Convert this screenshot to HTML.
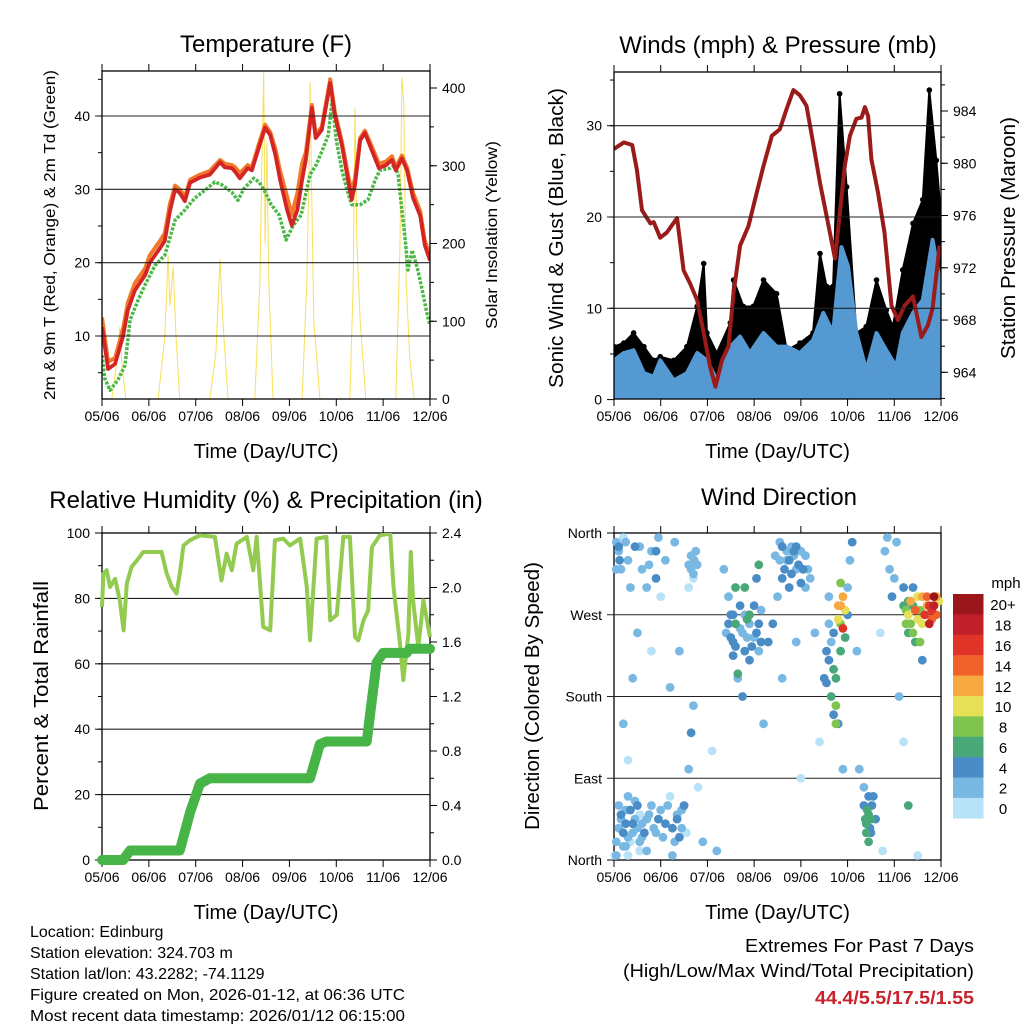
<!DOCTYPE html>
<html><head><meta charset="utf-8">
<style>
html,body{margin:0;padding:0;background:#fff;}
svg{display:block;font-family:"Liberation Sans",Arial,sans-serif;}
</style></head>
<body>
<svg id="chart" width="1024" height="1024" viewBox="0 0 1024 1024" xmlns="http://www.w3.org/2000/svg">
<rect x="0" y="0" width="1024" height="1024" fill="#fff"/>
<g id="layer"></g>
<text x="30" y="937" font-size="16">Location: Edinburg</text>
<text x="30" y="958" font-size="16">Station elevation: 324.703 m</text>
<text x="30" y="979" font-size="16">Station lat/lon: 43.2282; -74.1129</text>
<text x="30" y="1000" font-size="16" textLength="375" lengthAdjust="spacingAndGlyphs">Figure created on Mon, 2026-01-12, at 06:36 UTC</text>
<text x="30" y="1021" font-size="16" textLength="375" lengthAdjust="spacingAndGlyphs">Most recent data timestamp: 2026/01/12 06:15:00</text>
<text x="745" y="952" font-size="18" textLength="229" lengthAdjust="spacingAndGlyphs">Extremes For Past 7 Days</text>
<text x="623" y="977" font-size="18" textLength="351" lengthAdjust="spacingAndGlyphs">(High/Low/Max Wind/Total Precipitation)</text>
<text x="815" y="1004" font-size="18" font-weight="bold" fill="#c8232c" textLength="159" lengthAdjust="spacingAndGlyphs">44.4/5.5/17.5/1.55</text>
</svg>
<script>
// ---------- Temperature panel data ----------
const tempDays=[0,0.13,0.28,0.45,0.55,0.7,0.92,1.02,1.24,1.34,1.45,1.56,1.66,1.77,1.88,2.09,2.30,2.52,2.62,2.77,2.84,2.94,3.11,3.20,3.33,3.48,3.59,3.70,3.80,3.95,4.05,4.17,4.27,4.35,4.48,4.56,4.69,4.87,4.97,5.12,5.25,5.33,5.40,5.51,5.61,5.76,5.91,6.06,6.19,6.27,6.40,6.51,6.64,6.79,6.89,7.0];
const tempRed=[11.2,5.5,6.2,10,13.5,16.2,18.3,20,22,23,27,30,29.5,28.4,30.9,31.6,32,33.7,33,32.9,32.4,31.5,32.9,32.6,35.3,38.4,37.4,34.7,31.3,27.2,25.1,27.2,31.3,34,41.1,37,38.1,44.5,40.1,36,31.3,28.6,30.6,36.7,37.7,35.3,32.9,33.3,34,32.6,34.2,32.6,28.8,26.4,22.4,20.3];
const tempOrange=[12.5,6.5,7,11,14.5,17.2,19.2,21,23,24,28,30.5,30,29,31.3,32,32.5,34,33.5,33.3,33,32.2,33.3,33,35.8,38.8,37.8,35.5,32.5,29,26.5,29.5,33.5,35,41.5,37.5,38.5,45,40.5,36.5,32,29.5,31.5,37,38,35.8,33.5,33.8,34.5,33,34.6,33,29.5,27,23,21];
const dewDays=[0,0.06,0.17,0.34,0.49,0.6,0.77,0.92,1.13,1.34,1.56,1.77,1.98,2.20,2.41,2.56,2.77,2.90,3.03,3.24,3.35,3.46,3.61,3.78,3.93,4.08,4.25,4.44,4.57,4.70,4.83,4.91,5.00,5.12,5.23,5.33,5.51,5.68,5.83,5.93,6.15,6.25,6.32,6.40,6.47,6.53,6.62,6.74,6.83,6.94,7.0];
const dewVals=[7.4,4.2,2.6,4,6,12.2,14.9,17,19.6,21,25.8,27.2,28.8,29.9,31,30.6,29.6,28.5,30.1,31.5,31,29.9,27.9,26.5,23.1,25.1,26.5,32,33.3,35.3,37.4,42.2,36.7,32.6,29.9,27.9,27.9,28.6,31.3,32.6,32.9,33.3,32,27.2,23.1,19,21.7,19,16.4,12.9,11.5];
const solarDays=[0,0.21,0.34,0.38,0.43,0.51,1.2,1.34,1.41,1.45,1.52,1.58,1.66,2.30,2.43,2.52,2.58,2.69,3.26,3.37,3.41,3.45,3.48,3.52,3.56,3.65,4.27,4.37,4.42,4.44,4.48,4.52,4.65,5.29,5.36,5.40,5.44,5.51,5.63,6.27,6.36,6.40,6.44,6.49,6.57,6.66,7.0];
const solarVals=[0,0,60,93,40,0,0,80,185,120,170,80,0,0,60,180,100,0,0,150,300,420,200,330,150,0,0,150,300,408,250,100,0,0,150,375,200,100,0,0,200,413,380,150,50,0,0];
const tempTicks=[10,20,30,40];
const solarTicks=[0,100,200,300,400];
const dayLabels=["05/06","06/06","07/06","08/06","09/06","10/06","11/06","12/06"];
// ---------- Wind panel data ----------
const pressDays=[0,0.21,0.39,0.49,0.60,0.78,0.85,0.99,1.13,1.35,1.49,1.63,1.78,1.92,2.06,2.17,2.31,2.45,2.56,2.70,2.88,3.06,3.20,3.38,3.55,3.70,3.84,3.98,4.12,4.26,4.41,4.55,4.73,4.83,4.94,5.05,5.19,5.30,5.37,5.44,5.51,5.65,5.79,5.94,6.08,6.22,6.40,6.58,6.72,6.82,6.97];
const pressVals=[981.1,981.6,981.4,979.5,976.4,975.4,975.5,974.3,974.7,975.8,971.8,970.8,969.5,967,964.4,962.9,964.9,966,970.1,973.7,975.2,977.8,979.8,982.1,982.6,984.2,985.6,985.2,984.4,981.6,978.5,976,972.7,976,979.8,982.1,983.4,983.5,984.3,983.6,980.3,977.8,974.7,969.1,968,969.1,969.8,966.7,967.6,968.9,973.7];
const gustDays=[0,0.21,0.42,0.64,0.85,0.99,1.28,1.56,1.78,1.92,1.99,2.20,2.49,2.56,2.77,2.98,3.20,3.48,3.70,3.98,4.26,4.41,4.55,4.69,4.83,4.98,5.19,5.40,5.62,5.83,5.97,6.18,6.40,6.61,6.75,6.90,6.97];
const gustVals=[5.8,6.2,7.3,5.8,4.3,4.7,4.3,5.8,10.2,14.9,7.3,5.1,8.4,13.1,10.2,10.2,13.1,11.6,5.4,6.2,7.3,16,12.4,12.4,33.5,23.3,7.3,8,13.1,9.8,8,14.2,19.3,21.9,33.9,26.2,21.9];
const windDays=[0,0.21,0.42,0.64,0.85,0.99,1.28,1.56,1.78,1.99,2.20,2.49,2.70,2.91,3.20,3.48,3.70,3.98,4.26,4.48,4.69,4.87,5.01,5.19,5.40,5.62,5.83,6.04,6.18,6.40,6.61,6.82,6.97];
const windVals=[4.3,5.1,5.4,2.9,2.5,4.3,2.1,2.9,5.1,4.3,2.1,5.8,6.9,5.1,7.3,5.8,5.8,5.1,6.5,9.5,7.3,16.7,14.6,7.3,3.2,7.3,5.4,3.6,7.3,9.5,10.9,17.5,13.1];
const windTicks=[0,10,20,30];
const pressTicks=[964,968,972,976,980,984];
// ---------- RH / precip data ----------
const rhDays=[0,0.03,0.1,0.17,0.28,0.38,0.46,0.53,0.63,0.78,0.88,1.27,1.38,1.49,1.59,1.66,1.74,1.88,2.09,2.41,2.55,2.66,2.77,2.87,3.09,3.23,3.30,3.44,3.59,3.69,3.87,4.01,4.23,4.37,4.44,4.58,4.79,4.87,5.01,5.15,5.29,5.40,5.47,5.58,5.68,5.76,5.93,6.15,6.22,6.36,6.43,6.54,6.59,6.64,6.75,6.86,7.0];
const rhVals=[77.4,87.6,88.6,83.5,86,79.4,70.2,84.5,89.6,92.2,94.2,94.2,87.6,83.5,81.5,87.6,96.2,97.8,99.3,98.8,85.5,93.7,88.6,96.7,98.8,88.6,98.8,71.3,70.2,97.8,98.3,96.2,98.3,83.5,67.2,98.3,98.8,73.3,75,98.8,98.8,68.2,67.2,73.3,76.3,95.7,99.3,99.8,83.5,66.2,55,69.2,94.2,79.4,65.1,79.4,68.2];
const precipDays=[0,0.45,0.6,1.66,1.88,2.09,2.3,4.44,4.65,4.79,5.65,5.86,6.0,6.5,6.57,7.0];
const precipVals=[0,0,0.07,0.07,0.35,0.56,0.6,0.6,0.85,0.87,0.87,1.45,1.52,1.52,1.55,1.55];
const rhTicks=[0,20,40,60,80,100];
const precipTicks=[0,0.4,0.8,1.2,1.6,2.0,2.4];
// ---------- Wind direction data ----------
const dirDays=[0.05,0.1,0.15,0.2,0.3,0.35,0.45,0.1,0.15,0.2,0.25,0.3,0.35,0.4,0.45,0.5,0.55,0.6,0.7,0.8,0.9,1.0,1.1,1.2,1.3,1.35,1.45,1.5,0.6,0.7,0.8,0.9,1.0,1.1,1.3,0.2,0.3,0.4,0.5,0.8,1.2,1.4,1.6,1.65,1.7,1.75,1.6,1.65,1.7,1.8,1.9,2.1,2.2,2.4,2.5,2.55,2.6,2.7,2.75,2.8,2.85,2.9,3.0,3.1,3.15,2.65,2.75,2.9,2.6,3.3,3.4,3.5,3.2,3.6,3.7,3.75,3.8,3.9,4.0,4.1,4.2,3.6,3.9,4.0,4.3,4.4,4.5,4.55,4.6,4.65,4.7,4.75,4.8,4.85,4.9,4.95,4.7,4.6,5.0,5.05,5.1,5.0,4.8,4.9,5.35,5.4,5.45,5.5,5.55,5.45,5.35,5.6,5.2,5.7,5.8,5.85,5.9,5.95,6.0,6.2,6.25,6.3,6.35,6.4,6.45,6.5,6.55,6.6,6.65,6.7,6.75,6.8,6.85,6.9,6.95,6.6,6.4,6.1,6.2,0.02,0.25,0.55,0.95,1.25,1.55,2.35,2.45,3.05,3.45,3.55,3.85,4.15,4.85,5.25,5.75,6.05,6.3,6.5,
0.05,0.1,0.15,0.2,0.25,0.3,0.35,0.4,0.45,0.5,0.55,0.6,0.65,0.75,0.85,0.95,1.05,1.15,1.25,1.35,1.4,1.45,0.05,0.3,0.7,
0.05,0.1,0.12,0.25,0.55,0.75,0.9,1.6,1.65,1.7,1.72,1.78,
2.45,2.5,2.55,2.6,2.7,2.8,2.85,2.9,2.95,3.0,3.05,3.1,3.15,2.55,2.65,2.8,3.1,
3.55,3.6,3.65,3.7,3.75,3.8,3.85,3.9,3.95,4.0,4.05,4.1,
4.55,4.6,4.65,4.7,4.75,4.8,4.85,4.9,4.95,4.85,4.75,
5.38,5.42,5.48,5.52,5.4,5.45,5.5,
6.25,6.3,6.35,6.4,6.5,6.55,6.6,6.7,6.75,6.8,6.85,6.9,6.3,6.45,6.2];
const dirVals=[350,340,320,355,330,300,345,60,45,30,55,70,20,40,65,35,50,25,45,60,30,55,40,70,20,50,35,60,320,300,340,310,290,330,350,150,110,200,250,230,190,230,300,320,310,340,100,140,170,80,20,120,10,250,270,240,260,280,250,230,265,220,245,260,275,200,180,270,300,240,260,290,150,310,330,300,345,320,305,335,310,200,240,90,250,130,200,230,260,180,250,170,265,280,255,245,210,290,300,330,350,270,150,100,60,40,50,30,70,20,80,45,230,250,340,355,320,290,310,280,260,270,285,250,275,265,240,290,270,280,260,275,290,270,285,220,300,180,130,5,15,10,355,5,30,320,290,310,335,350,340,320,305,100,10,350,60,5,
20,35,50,15,40,25,55,30,45,60,20,40,30,50,35,45,25,60,35,45,25,55,5,5,10,
320,345,330,350,345,325,340,325,335,315,330,325,
260,245,270,235,255,270,245,260,235,280,250,230,240,225,205,300,325,
330,345,320,340,330,315,335,345,325,340,320,300,
195,220,240,160,200,280,260,290,275,230,150,
45,55,35,60,30,70,45,
275,285,260,280,290,275,260,290,280,265,280,290,250,240,300];
const dirSpeeds=[2,3,2,1,3,2,4,2,3,4,2,3,1,4,2,3,1,2,3,2,3,2,4,1,2,3,2,4,2,3,2,4,1,3,2,2,1,3,2,1,2,3,1,2,1,3,3,4,2,1,2,1,2,3,4,5,6,4,3,5,6,4,3,4,2,3,5,6,7,4,5,3,2,4,3,4,2,3,4,2,3,2,3,1,2,1,4,5,3,6,4,8,11,13,16,6,7,2,3,2,4,5,4,3,5,6,7,5,4,6,3,4,2,1,2,3,2,4,3,6,8,10,12,9,14,11,8,13,16,12,18,17,20,15,11,5,4,2,1,1,2,1,3,2,0,3,2,4,3,2,4,3,8,2,1,3,6,0,
2,3,4,2,4,3,4,2,3,4,3,2,4,3,2,4,3,2,4,4,4,3,2,1,2,
3,4,4,2,3,2,4,2,2,2,2,2,
4,4,5,4,3,2,2,3,4,5,4,3,4,4,6,6,6,
3,4,4,3,4,4,3,4,4,3,4,3,
4,4,3,5,6,12,8,13,10,7,8,
6,6,5,4,6,4,6,
8,7,9,6,10,9,11,14,16,15,18,13,6,7,4];
const dirTickLabels=["North","East","South","West","North"];
const dirTickVals=[0,90,180,270,360];
const speedBinLabels=["20+","18","16","14","12","10","8","6","4","2","0"];
const speedBinColors=["#9b161b","#c0202a","#e03428","#f0622a","#f8a840","#e6df58","#7fc44e","#48a878","#4a8cc6","#7ab8e4","#b8e2f8"];

// ---------- helpers ----------
const NS="http://www.w3.org/2000/svg";
const layer=document.getElementById('layer');
function mk(tag,attrs,parent){const e=document.createElementNS(NS,tag);for(const k in attrs)e.setAttribute(k,attrs[k]);(parent||layer).appendChild(e);return e;}
function lin(d0,d1,r0,r1){return v=>r0+(v-d0)/(d1-d0)*(r1-r0);}
function pathFrom(xs,ys,fx,fy){return xs.map((d,i)=>(i?'L':'M')+fx(d).toFixed(1)+','+fy(ys[i]).toFixed(1)).join('');}

function frame(P,name){
  const g=mk('g',{});
  
  
  for(let i=0;i<=7;i++){
    const x=P.x(i);
    mk('line',{x1:x,x2:x,y1:P.y1,y2:P.y1+7,stroke:'#000','stroke-width':1},g);
    mk('line',{x1:x,x2:x,y1:P.y0,y2:P.y0-7,stroke:'#000','stroke-width':1},g);
    const t=mk('text',{x:x,y:P.y1+22,'font-size':14,'text-anchor':'middle'},g);
    t.textContent=dayLabels[i];
    
    
  }
  mk('rect',{x:P.x0,y:P.y0,width:P.x1-P.x0,height:P.y1-P.y0,fill:'none',stroke:'#000','stroke-width':1.3},g);
  const xt=mk('text',{x:(P.x0+P.x1)/2,y:P.y1+59,'font-size':20,'text-anchor':'middle'},g);
  xt.textContent='Time (Day/UTC)';
  
  
  return g;
}
function leftAxis(P,ticks,fy,minorStep,lo,hi,grid,g){
  for(const v of ticks){const y=fy(v);
    if(grid&&y>P.y0+1&&y<P.y1-1)mk('line',{x1:P.x0-7,x2:P.x1,y1:y,y2:y,stroke:'#222','stroke-width':1.1},g);
    else mk('line',{x1:P.x0-7,x2:P.x0,y1:y,y2:y,stroke:'#000'},g);
    const t=mk('text',{x:P.x0-12,y:y+5,'font-size':14,'text-anchor':'end'},g);t.textContent=String(v);
    
    }
  for(let v=Math.ceil(lo/minorStep)*minorStep;v<=hi;v+=minorStep){const y=fy(v);if(y>=P.y0&&y<=P.y1)mk('line',{x1:P.x0-4,x2:P.x0,y1:y,y2:y,stroke:'#000'},g);}
}
function rightAxis(P,ticks,fy,minorStep,lo,hi,fmt,g){
  for(const v of ticks){const y=fy(v);
    mk('line',{x1:P.x1,x2:P.x1+7,y1:y,y2:y,stroke:'#000'},g);
    const t=mk('text',{x:P.x1+12,y:y+5,'font-size':14,'text-anchor':'start'},g);t.textContent=fmt(v);
    
    }
  for(let v=Math.ceil(lo/minorStep)*minorStep;v<=hi+1e-9;v+=minorStep){const y=fy(v);if(y>=P.y0&&y<=P.y1)mk('line',{x1:P.x1,x2:P.x1+4,y1:y,y2:y,stroke:'#000'},g);}
}
function vtitle(x,y,txt,size,name,len){
  const t=mk('text',{x:x,y:y,'font-size':size,'text-anchor':'middle',transform:'rotate(-90 '+x+' '+y+')'});
  if(len){t.setAttribute('textLength',len);t.setAttribute('lengthAdjust','spacingAndGlyphs');}
  t.textContent=txt;
  
  
}
function title(x,y,txt,name){
  const t=mk('text',{x:x,y:y,'font-size':24,'text-anchor':'middle'});t.textContent=txt;
  
  
}

// ---------- Panel 1: Temperature ----------
(function(){
  const P={x0:102,x1:430,y0:71,y1:399};
  P.x=lin(0,7,P.x0,P.x1);
  const fy=lin(10,40,336,116);
  const fs=lin(0,400,399,88);
  const clip=mk('clipPath',{id:'c1'});mk('rect',{x:P.x0,y:P.y0,width:P.x1-P.x0,height:P.y1-P.y0},clip);
  const g=mk('g',{'clip-path':'url(#c1)'});
  
  
  const s=mk('path',{d:pathFrom(solarDays,solarVals,P.x,fs),fill:'none',stroke:'#f7dc4a','stroke-width':1,opacity:0.9},g);
  
  
  const ax=frame(P,'temperature');
  leftAxis(P,tempTicks,fy,5,0,46,true,ax);
  rightAxis(P,solarTicks,fs,50,0,420,v=>String(v),ax);
  const o=mk('path',{d:pathFrom(tempDays,tempOrange,P.x,fy),fill:'none',stroke:'#f07a2a','stroke-width':4,'stroke-linejoin':'round'},g);
  
  
  const dp=mk('path',{d:pathFrom(dewDays,dewVals,P.x,fy),fill:'none',stroke:'#4cb848','stroke-width':3.5,'stroke-dasharray':'3 1.5','stroke-linejoin':'round'},g);
  
  
  const r=mk('path',{d:pathFrom(tempDays,tempRed,P.x,fy),fill:'none',stroke:'#d42424','stroke-width':3.8,'stroke-linejoin':'round'},g);
  
  
  title(266,52,'Temperature (F)','temperature-title');
  vtitle(55,235,'2m & 9m T (Red, Orange) & 2m Td (Green)',16,'temperature-y-title',330);
  vtitle(497,235,'Solar Insolation (Yellow)',16,'solar-y-title',188);
})();

// ---------- Panel 2: Winds & Pressure ----------
(function(){
  const P={x0:614,x1:941,y0:72,y1:399};
  P.x=lin(0,7,P.x0,P.x1);
  const fy=lin(0,30,399.6,125.7);
  const fp=lin(964,984,372.3,111);
  const clip=mk('clipPath',{id:'c2'});mk('rect',{x:P.x0,y:P.y0-4,width:P.x1-P.x0,height:P.y1-P.y0+4},clip);
  const g=mk('g',{'clip-path':'url(#c2)'});
  
  
  const ax=frame(P,'wind');
  leftAxis(P,windTicks,fy,5,0,36,true,ax);
  rightAxis(P,pressTicks,fp,2,962,988,v=>String(v),ax);
  let d='M'+P.x(0)+','+fy(0.8);
  gustDays.forEach((t,i)=>{d+='L'+P.x(t).toFixed(1)+','+fy(gustVals[i]).toFixed(1);});
  d+='L'+P.x(7)+','+fy(0.8)+'Z';
  const ga=mk('path',{d:d,fill:'#000',stroke:'#000','stroke-width':2,'stroke-linejoin':'round'},g);
  
  
  gustDays.forEach((t,i)=>{
    const c=mk('circle',{cx:P.x(t),cy:fy(gustVals[i]),r:2.8,fill:'#000'},g);
    
    
  });
  let b='M'+P.x(0)+','+fy(0.3);
  windDays.forEach((t,i)=>{b+='L'+P.x(t).toFixed(1)+','+fy(windVals[i]).toFixed(1);});
  b+='L'+P.x(7)+','+fy(0.3)+'Z';
  const wa=mk('path',{d:b,fill:'#5599d2',stroke:'#5599d2','stroke-width':4,'stroke-linejoin':'round'},g);
  
  
  const pl=mk('path',{d:pathFrom(pressDays,pressVals,P.x,fp),fill:'none',stroke:'#9b1a1a','stroke-width':4,'stroke-linejoin':'round'},g);
  
  
  title(778,53,'Winds (mph) & Pressure (mb)','winds-title');
  vtitle(563,238,'Sonic Wind & Gust (Blue, Black)',20,'wind-y-title',300);
  vtitle(1015,238,'Station Pressure (Maroon)',20,'pressure-y-title',242);
})();

// ---------- Panel 3: RH & precipitation ----------
(function(){
  const P={x0:102,x1:430,y0:533,y1:860};
  P.x=lin(0,7,P.x0,P.x1);
  const fy=lin(0,100,860,533);
  const fp=lin(0,2.4,860,533);
  const clip=mk('clipPath',{id:'c3'});mk('rect',{x:P.x0-8,y:P.y0,width:P.x1-P.x0+16,height:P.y1-P.y0+8},clip);
  const ax=frame(P,'humidity');
  leftAxis(P,rhTicks,fy,10,0,100,true,ax);
  rightAxis(P,precipTicks,fp,0.2,0,2.4,v=>v.toFixed(1),ax);
  const g=mk('g',{'clip-path':'url(#c3)'});
  
  
  const rh=mk('path',{d:pathFrom(rhDays,rhVals,P.x,fy),fill:'none',stroke:'#92cb50','stroke-width':4,'stroke-linejoin':'round'},g);
  
  
  const pr=mk('path',{d:pathFrom(precipDays,precipVals,P.x,fp),fill:'none',stroke:'#46b446','stroke-width':10,'stroke-linejoin':'round','stroke-linecap':'round'},g);
  
  
  title(266,508,'Relative Humidity (%) & Precipitation (in)','humidity-title');
  vtitle(48,696,'Percent & Total Rainfall',20,'humidity-y-title',230);
})();

// ---------- Panel 4: Wind direction ----------
(function(){
  const P={x0:614,x1:941,y0:533,y1:860};
  P.x=lin(0,7,P.x0,P.x1);
  const fy=lin(0,360,860,533);
  const ax=frame(P,'direction');
  dirTickVals.forEach((v,i)=>{const y=fy(v);
    if(i>0&&i<4)mk('line',{x1:P.x0-7,x2:P.x1,y1:y,y2:y,stroke:'#222','stroke-width':1.1},ax);
    else mk('line',{x1:P.x0-7,x2:P.x0,y1:y,y2:y,stroke:'#000'},ax);
    const t=mk('text',{x:P.x0-12,y:y+5,'font-size':14,'text-anchor':'end'},ax);t.textContent=dirTickLabels[i];
    
    
  });
  const g=mk('g',{});
  
  
  function colorFor(s){let idx=Math.min(10,Math.floor(s/2));return speedBinColors[10-idx];}
  const order=dirDays.map((d,i)=>i).sort((a,b)=>dirSpeeds[a]-dirSpeeds[b]);
  order.forEach(i=>{
    const c=mk('circle',{cx:P.x(dirDays[i]).toFixed(1),cy:fy(dirVals[i]).toFixed(1),r:4.4,fill:colorFor(dirSpeeds[i])},g);
    
    
  });
  title(779,505,'Wind Direction','direction-title');
  vtitle(539,696,'Direction (Colored By Speed)',20,'direction-y-title',268);
  const cb=mk('g',{});
  
  
  const h=(818.3-594)/speedBinLabels.length;
  speedBinLabels.forEach((lab,i)=>{
    const r=mk('rect',{x:953,y:594+i*h,width:30.5,height:h+0.3,fill:speedBinColors[i]},cb);
    
    
    const t=mk('text',{x:1003,y:594+i*h+h/2+6,'font-size':15,'text-anchor':'middle'},cb);t.textContent=lab;
    
    
  });
  const m=mk('text',{x:1006,y:588,'font-size':15,'text-anchor':'middle'},cb);m.textContent='mph';
  
  
})();
</script>
</body></html>
